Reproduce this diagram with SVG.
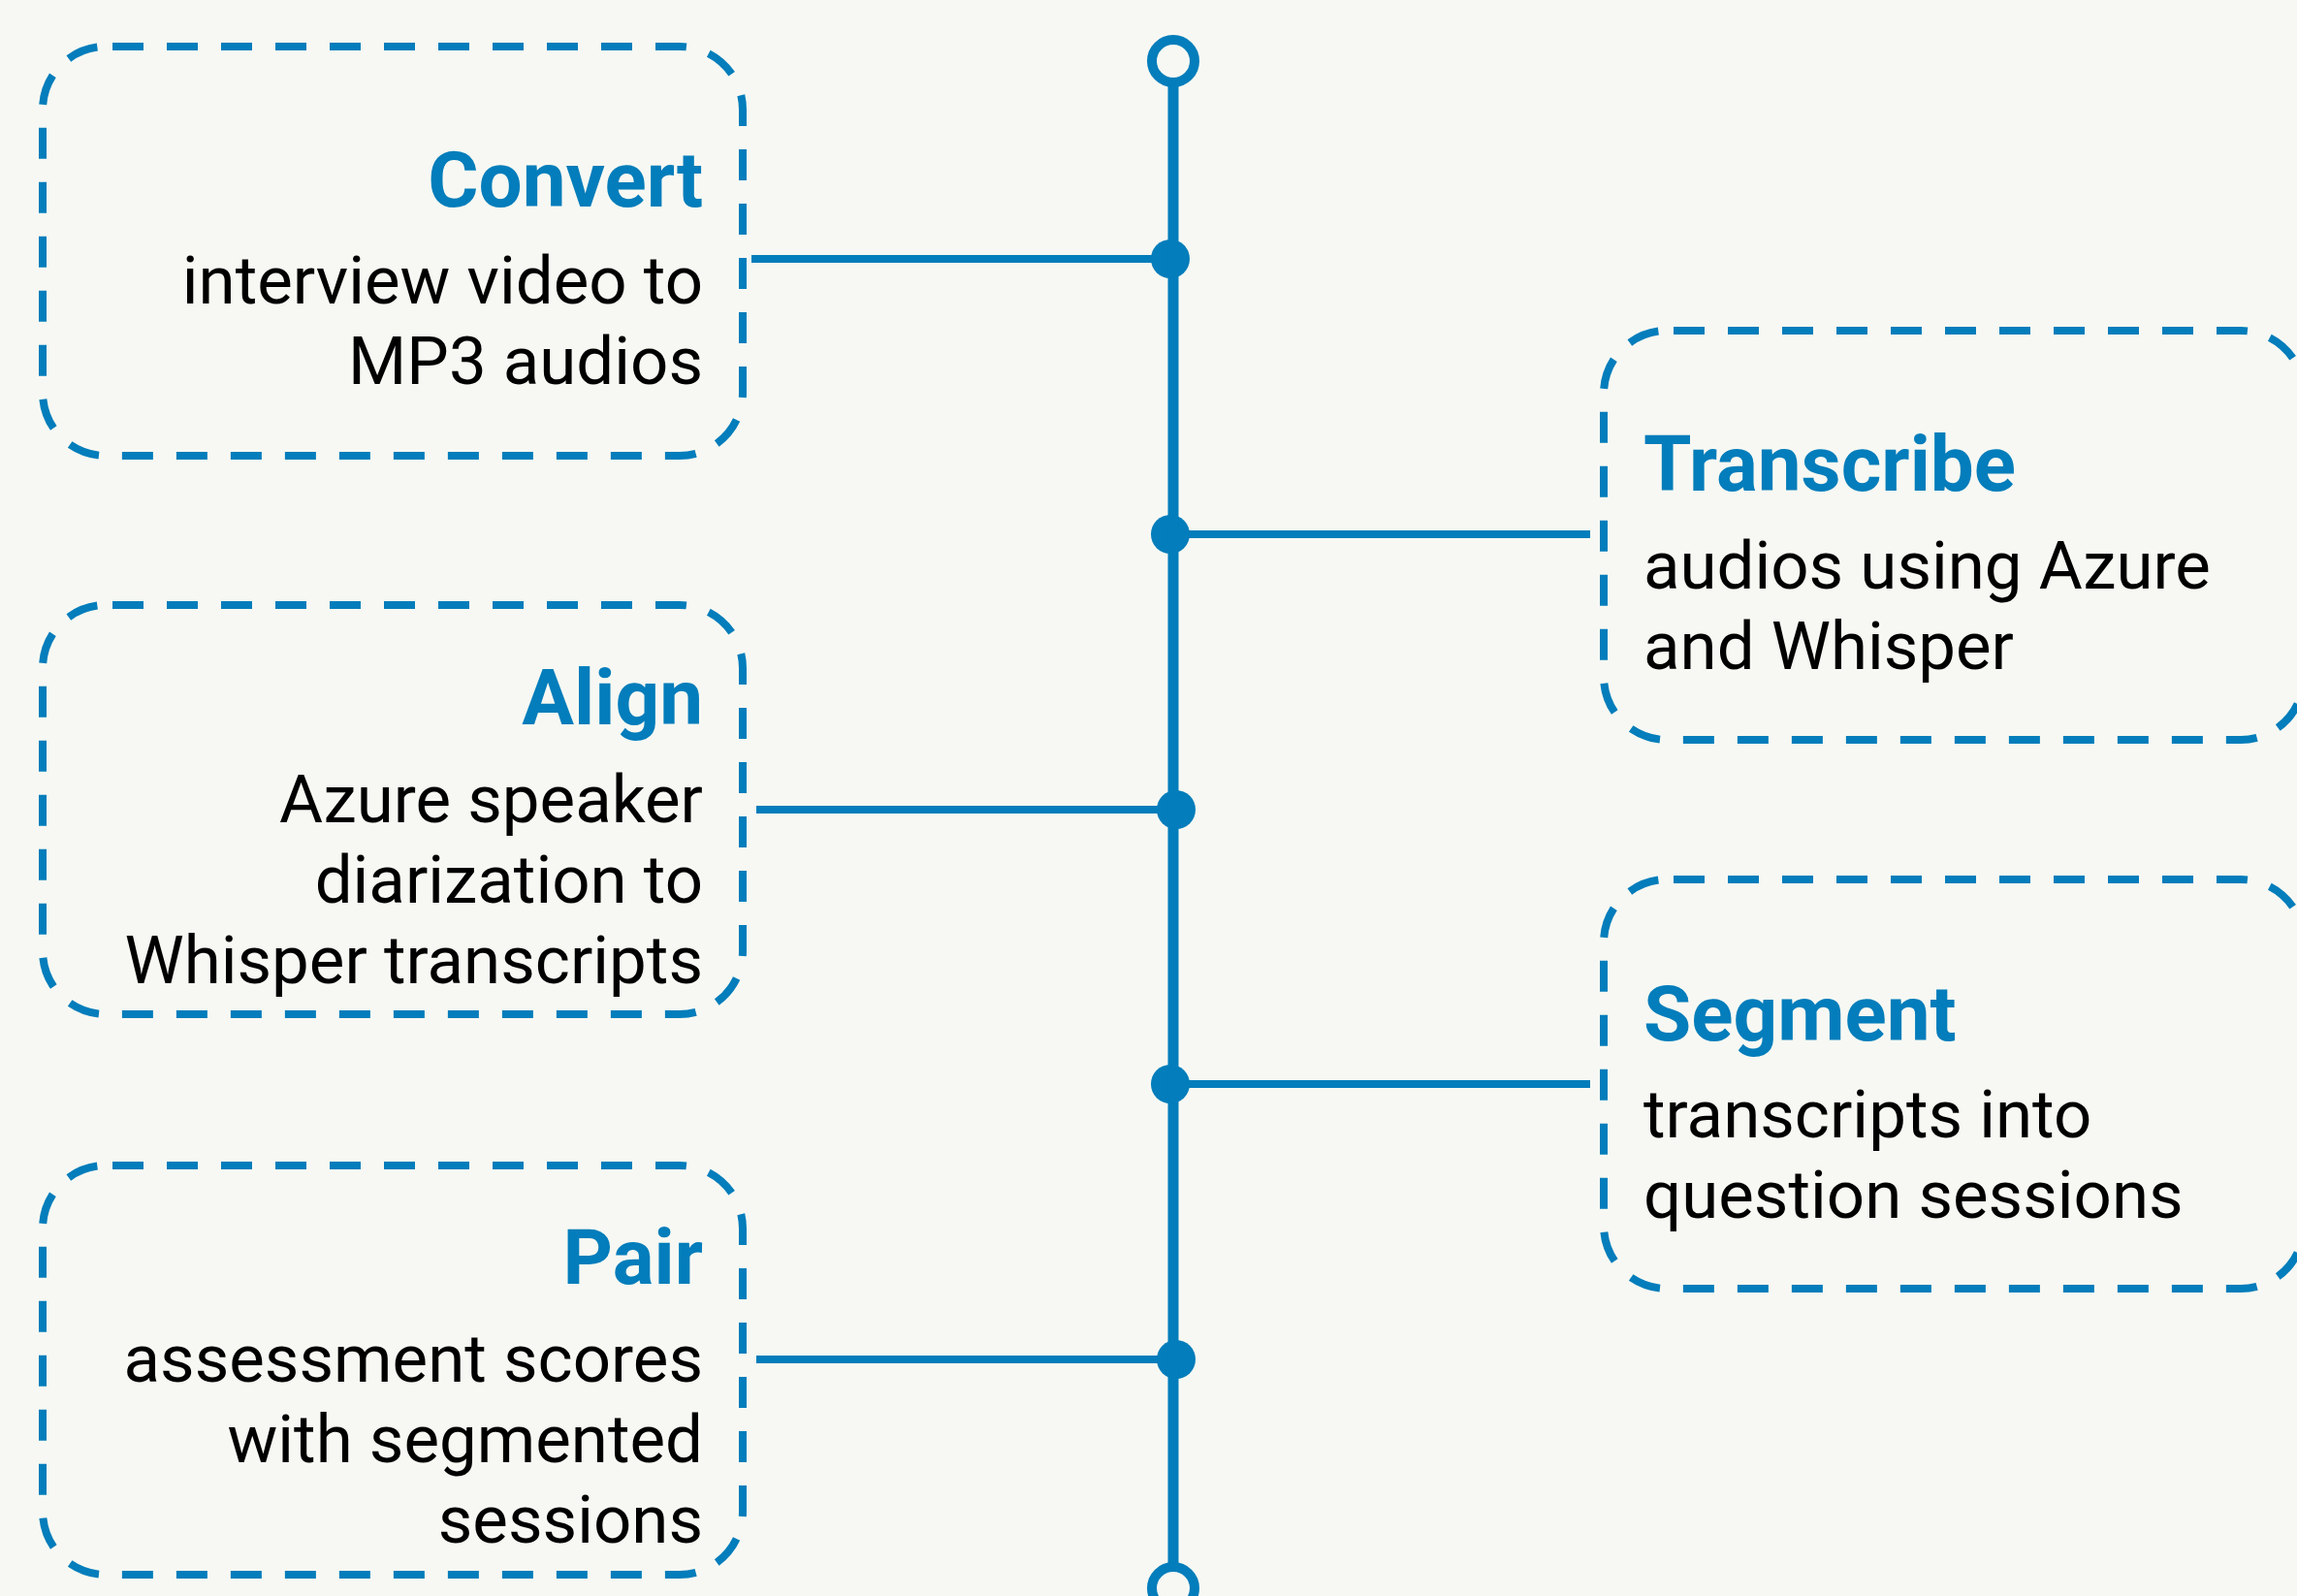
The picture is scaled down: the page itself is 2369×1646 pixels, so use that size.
<svg xmlns="http://www.w3.org/2000/svg" width="2369" height="1646" viewBox="0 0 2369 1646">
<style>
.box{fill:none;stroke:#037dbb;stroke-width:8;stroke-dasharray:32 24;stroke-dashoffset:49}
.title{font-family:Roboto,"Liberation Sans",sans-serif;font-weight:bold;font-size:80px;fill:#037dbb}
.body{font-family:Roboto,"Liberation Sans",sans-serif;font-size:69px;fill:#000}
.l{text-anchor:end}
.conn{stroke:#037dbb;stroke-width:8;fill:none}
.dot{fill:#037dbb}
.end{fill:#f7f8f3;stroke:#037dbb;stroke-width:10}
</style>
<rect width="2369" height="1646" fill="#f7f8f3"/>
<g id="connectors">
<line class="conn" x1="775" y1="267" x2="1207" y2="267"/>
<line class="conn" x1="1207" y1="551" x2="1640" y2="551"/>
<line class="conn" x1="780" y1="835" x2="1213" y2="835"/>
<line class="conn" x1="1207" y1="1118" x2="1640" y2="1118"/>
<line class="conn" x1="780" y1="1402" x2="1213" y2="1402"/>
<circle class="dot" cx="1207" cy="267" r="20"/>
<circle class="dot" cx="1207" cy="551" r="20"/>
<circle class="dot" cx="1213" cy="835" r="20"/>
<circle class="dot" cx="1207" cy="1118" r="20"/>
<circle class="dot" cx="1213" cy="1402" r="20"/>
<line x1="1210" y1="85" x2="1210" y2="1615" stroke="#037dbb" stroke-width="11"/>
<circle class="end" cx="1210" cy="63" r="22"/>
<circle class="end" cx="1210" cy="1638" r="22"/>
</g>
<g id="convert">
<rect class="box" x="44" y="48" width="722" height="422" rx="65"/>
<text class="title l" x="725" y="213">Convert</text>
<text class="body l" x="725" y="313">interview video to</text>
<text class="body l" x="725" y="396">MP3 audios</text>
</g>
<g id="transcribe">
<rect class="box" x="1654" y="341" width="722" height="422" rx="65"/>
<text class="title" x="1695" y="506">Transcribe</text>
<text class="body" x="1695" y="607">audios using Azure</text>
<text class="body" x="1695" y="690">and Whisper</text>
</g>
<g id="align">
<rect class="box" x="44" y="624" width="722" height="422" rx="65"/>
<text class="title l" x="725" y="747">Align</text>
<text class="body l" x="725" y="848">Azure speaker</text>
<text class="body l" x="725" y="931">diarization to</text>
<text class="body l" x="725" y="1014">Whisper transcripts</text>
</g>
<g id="segment">
<rect class="box" x="1654" y="907" width="722" height="422" rx="65"/>
<text class="title" x="1695" y="1073">Segment</text>
<text class="body" x="1695" y="1173">transcripts into</text>
<text class="body" x="1695" y="1256">question sessions</text>
</g>
<g id="pair">
<rect class="box" x="44" y="1202" width="722" height="422" rx="65"/>
<text class="title l" x="725" y="1324">Pair</text>
<text class="body l" x="725" y="1425">assessment scores</text>
<text class="body l" x="725" y="1508">with segmented</text>
<text class="body l" x="725" y="1591">sessions</text>
</g>
</svg>
